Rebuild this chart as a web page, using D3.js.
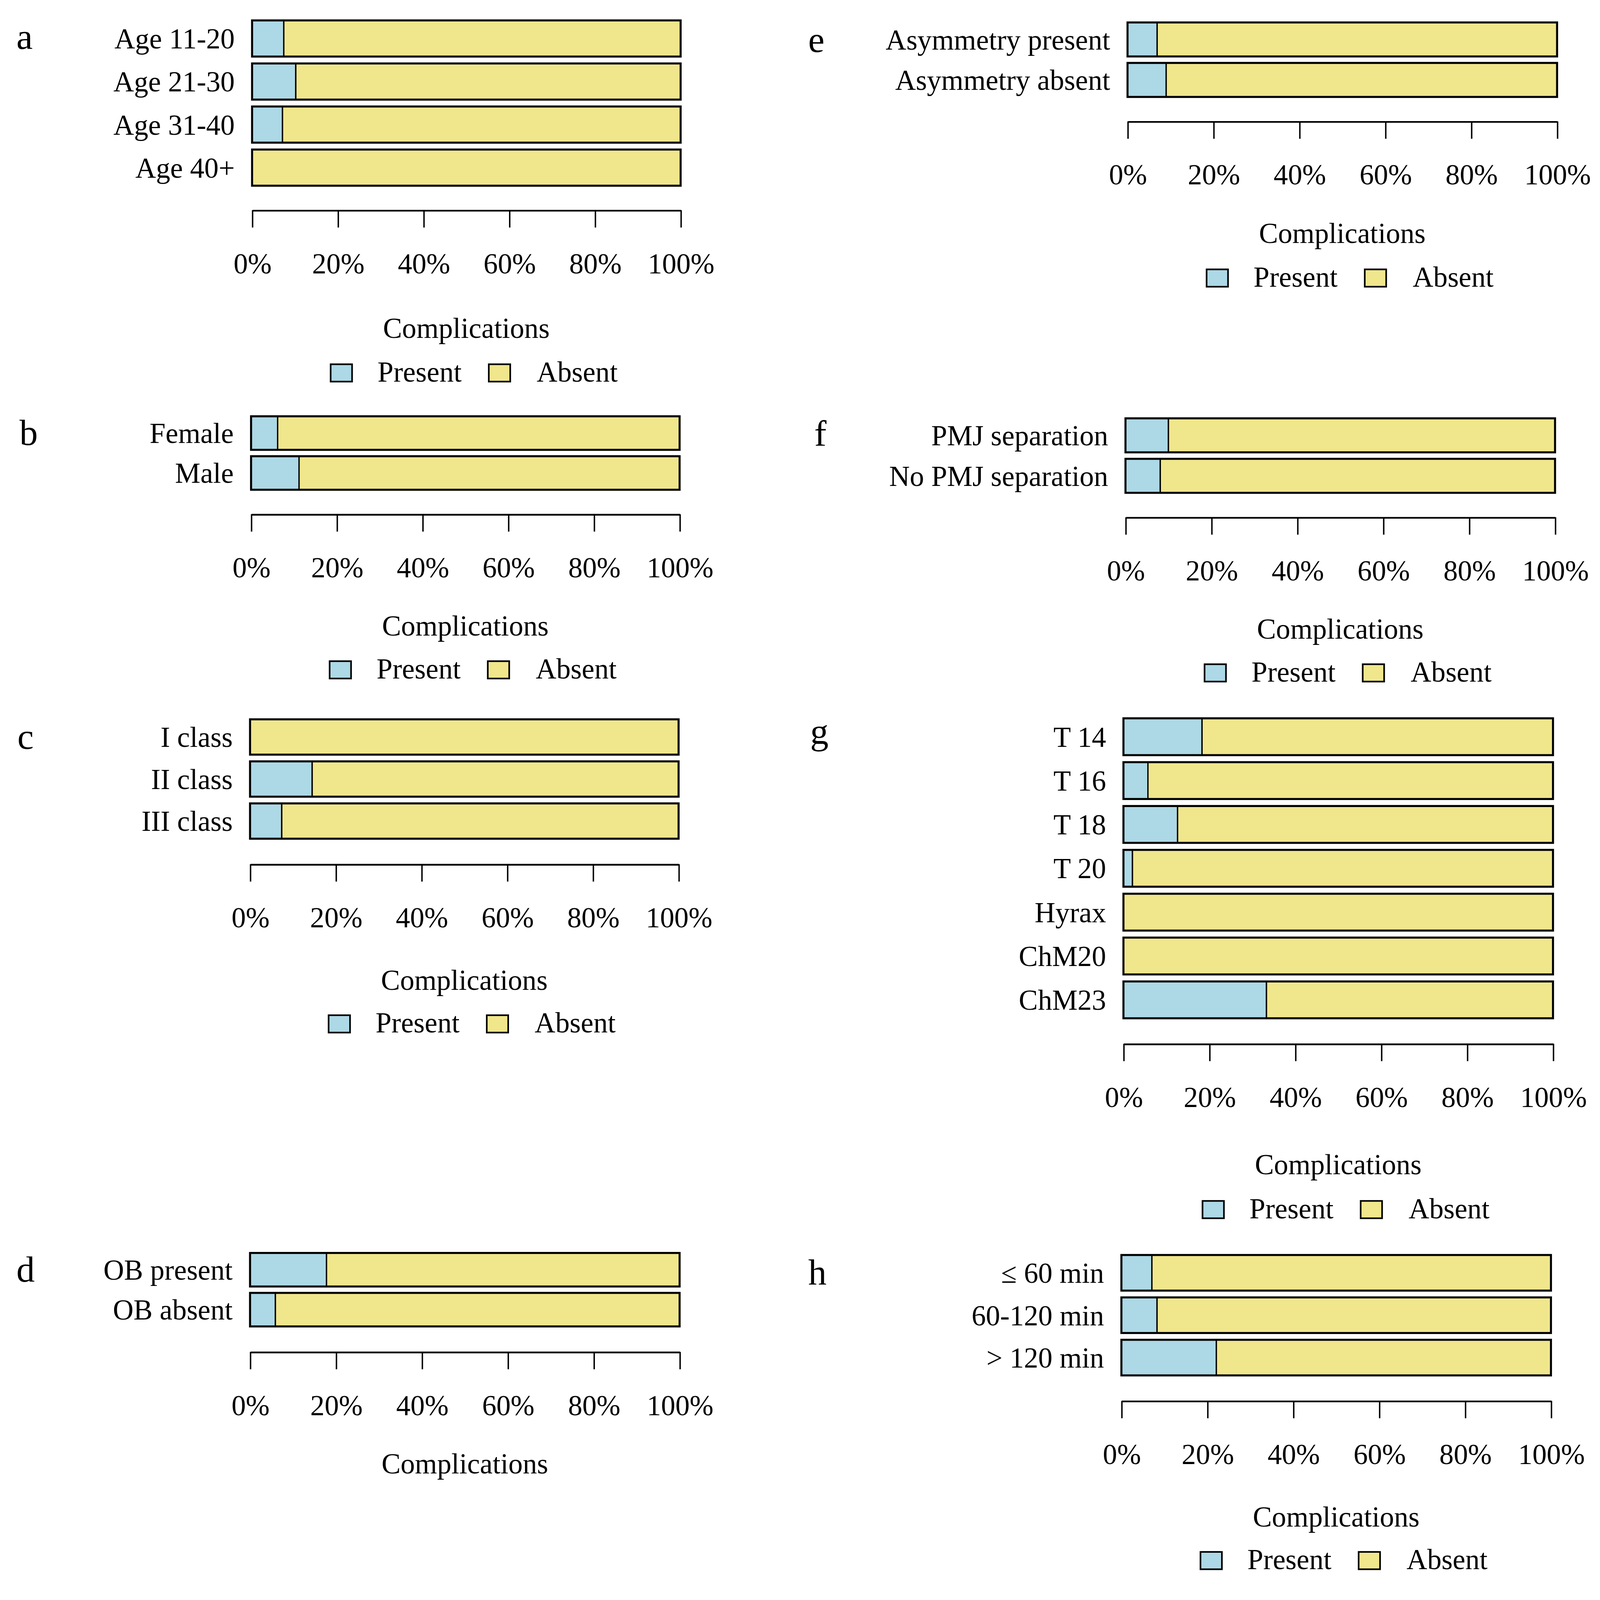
<!DOCTYPE html>
<html>
<head>
<meta charset="utf-8">
<script src="https://cdn.jsdelivr.net/npm/d3@7"></script>
<style>
  html, body { margin: 0; padding: 0; overflow: hidden; background: #fff; }
  svg { display: block; width: 100vw; height: calc(100vw * 4166 / 4212); font-family: "Liberation Serif", "Times New Roman", serif; }
</style>
</head>
<body>
<svg id="chart"></svg>
<script>
// percent of patients with complications
const ageCategories = ["Age 11-20", "Age 21-30", "Age 31-40", "Age 40+"];
const agePresent = [7.4, 10.2, 7.1, 0];

const sexCategories = ["Female", "Male"];
const sexPresent = [6.2, 11.2];

const classCategories = ["I class", "II class", "III class"];
const classPresent = [0, 14.5, 7.4];

const obCategories = ["OB present", "OB absent"];
const obPresent = [17.8, 5.9];

const asymCategories = ["Asymmetry present", "Asymmetry absent"];
const asymPresent = [6.9, 9.0];

const pmjCategories = ["PMJ separation", "No PMJ separation"];
const pmjPresent = [10.0, 8.1];

const applianceCategories = ["T 14", "T 16", "T 18", "T 20", "Hyrax", "ChM20", "ChM23"];
const appliancePresent = [18.3, 5.7, 12.6, 2.1, 0, 0, 33.3];

const durationCategories = ["≤ 60 min", "60-120 min", "> 120 min"];
const durationPresent = [7.1, 8.3, 22.1];

const tickValues = [0, 20, 40, 60, 80, 100];
const seriesKeys = ["Present", "Absent"];
const seriesColors = ["#ADD8E6", "#F0E68C"];
const axisTitle = "Complications";

const W = 1568, H = 1551;
// scale the drawing to the window width, keeping the 4212x4166 shape
const svg = d3.select("#chart")
    .attr("viewBox", `0 0 ${W} ${H}`)
    .attr("preserveAspectRatio", "xMidYMin meet");

svg.append("rect").attr("width", W).attr("height", H).attr("fill", "#fff");

const color = d3.scaleOrdinal().domain(seriesKeys).range(seriesColors);

// layout of each panel (in 1568-wide units)
const panels = [
    { letter: "a", cats: ageCategories, present: agePresent, x0: 247, x1: 667, top: 20, bottom: 182, axisY: 206, titleY: 331, legendY: 374, lx: 16, ly: 48 },
    { letter: "b", cats: sexCategories, present: sexPresent, x0: 246, x1: 666, top: 408, bottom: 480, axisY: 504, titleY: 623, legendY: 665, lx: 19, ly: 436 },
    { letter: "c", cats: classCategories, present: classPresent, x0: 245, x1: 665, top: 705, bottom: 822, axisY: 847, titleY: 970, legendY: 1012, lx: 17, ly: 734 },
    { letter: "d", cats: obCategories, present: obPresent, x0: 245, x1: 666, top: 1228, bottom: 1300, axisY: 1325, titleY: 1444, legendY: null, lx: 16, ly: 1256 },
    { letter: "e", cats: asymCategories, present: asymPresent, x0: 1105, x1: 1526, top: 22, bottom: 95, axisY: 119, titleY: 238, legendY: 281, lx: 792, ly: 51 },
    { letter: "f", cats: pmjCategories, present: pmjPresent, x0: 1103, x1: 1524, top: 410, bottom: 483, axisY: 507, titleY: 626, legendY: 668, lx: 798, ly: 437 },
    { letter: "g", cats: applianceCategories, present: appliancePresent, x0: 1101, x1: 1522, top: 704, bottom: 998, axisY: 1023, titleY: 1151, legendY: 1194, lx: 794, ly: 729 },
    { letter: "h", cats: durationCategories, present: durationPresent, x0: 1099, x1: 1520, top: 1230, bottom: 1348, axisY: 1373, titleY: 1496, legendY: 1538, lx: 792, ly: 1259 }
];

panels.forEach(p => {
    const g = svg.append("g");

    const rows = p.cats.map((c, i) => ({ cat: c, Present: p.present[i], Absent: 100 - p.present[i] }));
    const stacked = d3.stack().keys(seriesKeys)(rows);

    const x = d3.scaleLinear().domain([0, 100]).range([p.x0, p.x1]);
    const y = d3.scaleBand().domain(p.cats).range([p.top, p.bottom]).paddingInner(0.16);

    // bar segments
    g.selectAll("g.series")
        .data(stacked)
        .enter()
        .append("g")
        .attr("class", "series")
        .attr("fill", d => color(d.key))
        .selectAll("rect")
        .data(d => d)
        .enter()
        .append("rect")
        .attr("x", d => x(d[0]))
        .attr("y", d => y(d.data.cat))
        .attr("width", d => x(d[1]) - x(d[0]))
        .attr("height", y.bandwidth())
        .attr("stroke", "#000")
        .attr("stroke-width", 1.3);

    // heavier outline round each full bar
    g.selectAll("rect.outline")
        .data(rows)
        .enter()
        .append("rect")
        .attr("class", "outline")
        .attr("x", x(0))
        .attr("y", d => y(d.cat))
        .attr("width", x(100) - x(0))
        .attr("height", y.bandwidth())
        .attr("fill", "none")
        .attr("stroke", "#000")
        .attr("stroke-width", 2);

    // category labels
    g.selectAll("text.cat")
        .data(p.cats)
        .enter()
        .append("text")
        .attr("class", "cat")
        .attr("x", p.x0 - 17)
        .attr("y", d => y(d) + y.bandwidth() / 2)
        .attr("dy", "0.35em")
        .attr("text-anchor", "end")
        .style("font-size", "28px")
        .text(d => d);

    // x axis
    const axis = g.append("g")
        .attr("transform", `translate(0, ${p.axisY})`)
        .call(d3.axisBottom(x)
            .tickValues(tickValues)
            .tickFormat(d => d + "%")
            .tickSize(17)
            .tickSizeOuter(0)
            .tickPadding(25));
    axis.select(".domain").attr("stroke", "#000").attr("stroke-width", 1.7);
    axis.selectAll(".tick line").attr("stroke", "#000").attr("stroke-width", 1.4);
    axis.selectAll(".tick text")
        .attr("fill", "#000")
        .style("font-size", "28px")
        .style("font-family", "'Liberation Serif', 'Times New Roman', serif");

    const cx = (p.x0 + p.x1) / 2;

    g.append("text")
        .attr("x", cx)
        .attr("y", p.titleY)
        .attr("text-anchor", "middle")
        .style("font-size", "28px")
        .text(axisTitle);

    // legend
    if (p.legendY !== null) {
        const legendOffsets = [{ box: -133, text: -87 }, { box: 22, text: 69 }];
        const lg = g.selectAll("g.legend-item")
            .data(seriesKeys)
            .enter()
            .append("g")
            .attr("class", "legend-item");

        lg.append("rect")
            .attr("x", (d, i) => cx + legendOffsets[i].box)
            .attr("y", p.legendY - 17)
            .attr("width", 21)
            .attr("height", 17)
            .attr("fill", d => color(d))
            .attr("stroke", "#000")
            .attr("stroke-width", 1.6);

        lg.append("text")
            .attr("x", (d, i) => cx + legendOffsets[i].text)
            .attr("y", p.legendY)
            .style("font-size", "28px")
            .text(d => d);
    }

    // panel letter
    g.append("text")
        .attr("x", p.lx)
        .attr("y", p.ly)
        .style("font-size", "36px")
        .text(p.letter);
});
</script>
</body>
</html>
